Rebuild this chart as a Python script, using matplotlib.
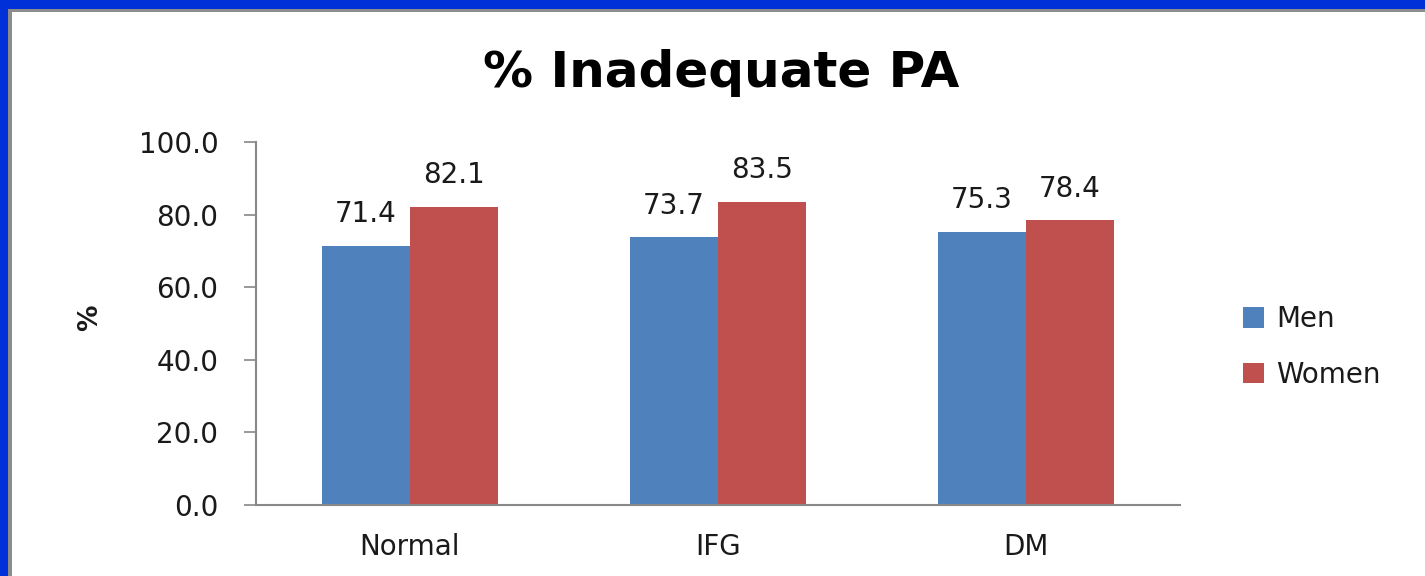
import matplotlib
matplotlib.use("Agg")
import matplotlib.pyplot as plt
from matplotlib.patches import Rectangle
from matplotlib.ticker import FormatStrFormatter

categories = ["Normal", "IFG", "DM"]
men = [71.4, 73.7, 75.3]
women = [82.1, 83.5, 78.4]
series_names = ["Men", "Women"]
title = "% Inadequate PA"
ylabel = "%"

plt.rcParams["font.family"] = ["DejaVu Sans"]

W, H = 1425, 576
fig = plt.figure(figsize=(W / 100, H / 100), dpi=100)
fig.patch.set_facecolor("white")

# blue slide frame (top and left)
fig.patches.append(Rectangle((0, 1 - 9 / H), 1, 9 / H, transform=fig.transFigure,
                             facecolor="#0030d8", edgecolor="none", zorder=0))
fig.patches.append(Rectangle((0, 0), 8 / W, 1, transform=fig.transFigure,
                             facecolor="#0030d8", edgecolor="none", zorder=0))
fig.patches.append(Rectangle((8 / W, 1 - 12 / H), 1, 3 / H, transform=fig.transFigure,
                             facecolor="#8c8c8c", edgecolor="none", zorder=0))
fig.patches.append(Rectangle((8 / W, 0), 4 / W, 1 - 9 / H, transform=fig.transFigure,
                             facecolor="#8c8c8c", edgecolor="none", zorder=0))

left, right = 256 / W, 1180 / W
bottom, top = 1 - 505 / H, 1 - 142 / H
ax = fig.add_axes([left, bottom, right - left, top - bottom])

x = list(range(len(categories)))
bw = 0.285
c_men = "#4f81bd"
c_women = "#c0504d"
b1 = ax.bar([i - bw / 2 for i in x], men, width=bw, color=c_men, label=series_names[0], zorder=2)
b2 = ax.bar([i + bw / 2 for i in x], women, width=bw, color=c_women, label=series_names[1], zorder=2)

for bars, vals in ((b1, men), (b2, women)):
    for rect, v in zip(bars, vals):
        ax.annotate(f"{v:.1f}", (rect.get_x() + rect.get_width() / 2, v),
                    xytext=(0, 17), textcoords="offset points",
                    ha="center", va="baseline", fontsize=20, color="#1a1a1a")

ax.set_xlim(-0.5, 2.5)
ax.set_ylim(0, 100)
ax.set_yticks([0, 20, 40, 60, 80, 100])
ax.yaxis.set_major_formatter(FormatStrFormatter("%.1f"))
ax.set_xticks(x)
ax.set_xticklabels(categories)
ax.tick_params(axis="y", length=9, width=1.2, color="#888888", labelsize=20, pad=18, labelcolor="#1a1a1a")
ax.tick_params(axis="x", length=0, labelsize=20, pad=20, labelcolor="#1a1a1a")
for s in ("top", "right"):
    ax.spines[s].set_visible(False)
for s in ("left", "bottom"):
    ax.spines[s].set_color("#888888")
    ax.spines[s].set_linewidth(1.5)

fig.text(90 / W, 1 - 318 / H, ylabel, rotation=90, ha="center", va="center",
         fontsize=19, fontweight="bold", color="#1a1a1a")
fig.text(721 / W, 1 - 87 / H, title, ha="center", va="baseline",
         fontsize=36, fontweight="bold", color="black")

leg = fig.legend(handles=[b1, b2], labels=series_names, loc="center left",
                 bbox_to_anchor=(1218 / W, 1 - 347 / H), frameon=False,
                 fontsize=20, handlelength=0.75, handleheight=0.75, handletextpad=0.45,
                 labelspacing=1.0)
for t in leg.get_texts():
    t.set_color("#1a1a1a")

fig.savefig("out.png", dpi=100)
